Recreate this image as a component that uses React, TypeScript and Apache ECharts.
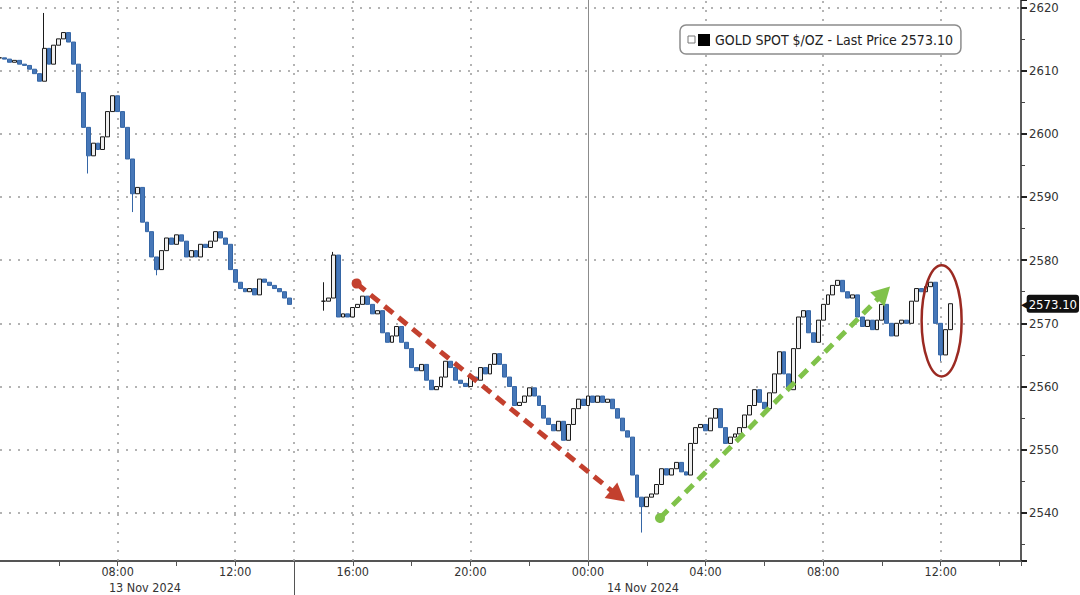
import React, { useEffect, useRef } from 'react';
import * as echarts from 'echarts';

// hours counted from 13 Nov 2024 00:00, one bar every 10 minutes
const barMinutes = 10;
const sessionAStart = 4;
const sessionAClose = [
  2612.0, 2611.8, 2611.3, 2611.6, 2611.0, 2610.8, 2610.2, 2609.5, 2608.3, 2613.5,
  2611.0, 2614.0, 2615.0, 2616.0, 2614.5, 2611.0, 2606.5, 2601.0, 2596.5, 2598.5,
  2597.5, 2599.5, 2603.5, 2606.0, 2603.5, 2601.0, 2596.0, 2590.5, 2591.5, 2586.0,
  2584.5, 2580.5, 2578.5, 2581.5, 2583.5, 2582.5, 2584.0, 2583.0, 2580.5, 2581.5,
  2580.5, 2582.5, 2582.0, 2583.0, 2584.5, 2583.5, 2582.5, 2578.5, 2576.5, 2575.5,
  2575.0, 2575.5, 2574.5, 2577.0, 2576.5, 2576.0, 2575.5, 2575.0, 2574.0, 2573.0,
];
const sessionBStart = 15;
const sessionBClose = [
  2573.5, 2574.0, 2580.8, 2571.0, 2571.5, 2571.0, 2572.5, 2573.0, 2574.3, 2573.0,
  2571.5, 2572.0, 2568.5, 2567.0, 2568.0, 2569.5, 2567.0, 2566.0, 2563.0, 2562.5,
  2563.5, 2561.0, 2559.5, 2560.0, 2561.5, 2564.0, 2563.0, 2561.0, 2560.5, 2560.0,
  2561.5, 2561.0, 2563.0, 2562.0, 2563.5, 2565.2, 2563.5, 2561.5, 2560.0, 2557.0,
  2557.5, 2558.5, 2559.8, 2558.5, 2557.0, 2555.0, 2554.0, 2553.0, 2554.5, 2551.5,
  2554.0, 2556.5, 2558.0, 2557.0, 2558.5, 2557.5, 2558.5, 2557.5, 2558.0, 2556.5,
  2555.0, 2553.0, 2552.0, 2546.0, 2542.5, 2541.0, 2542.5, 2543.0, 2544.5, 2547.0,
  2546.0, 2547.0, 2548.0, 2546.5, 2546.0, 2551.0, 2553.5, 2554.0, 2553.0, 2555.0,
  2556.5, 2553.5, 2551.0, 2552.0, 2552.5, 2553.5, 2555.5, 2557.0, 2559.5, 2557.5,
  2556.5, 2559.0, 2562.0, 2565.5, 2562.0, 2559.5, 2566.0, 2571.0, 2572.0, 2568.5,
  2567.0, 2570.5, 2573.0, 2574.5, 2576.0, 2576.8, 2575.0, 2574.0, 2574.5, 2571.0,
  2569.5, 2570.5, 2569.0, 2570.5, 2573.0, 2570.0, 2568.0, 2570.0, 2570.5, 2570.0,
  2573.5, 2575.5, 2575.0, 2575.8, 2576.5, 2570.0, 2565.0, 2569.0, 2573.1,
];
// [hour, price] of visible wick ends
const wickHighs = [[5.5, 2619.1], [15.0, 2576.5], [15.333, 2581.3]];
const wickLows = [[7.0, 2593.7], [8.5, 2587.6], [9.333, 2577.6], [15.0, 2572.0], [25.833, 2536.9], [36.0, 2564.0]];

const lastPrice = 2573.1;
const seriesName = 'GOLD SPOT $/OZ - Last Price 2573.10';

const gridHours = [8, 12, 14, 16, 20, 28, 32, 36];
const dayBreakHour = 24;
const sessionBreakHour = 14;
const dateLabels = [
  { hour: 8.93, text: '13 Nov 2024' },
  { hour: 25.87, text: '14 Nov 2024' },
];

// hand-drawn annotations, [hour, price]
const downArrow = [[16.13, 2576.3], [25.02, 2542.7]];
const upArrow = [[26.45, 2539.2], [34.06, 2574.8]];
const circleBox = [[35.35, 2579.2], [36.71, 2561.6]];

const FONT = "'DejaVu Sans Condensed', 'DejaVu Sans', sans-serif";

const buildCandles = (start: number, closes: number[]) =>
  closes.map((c, i) => {
    const t = start + (i * barMinutes) / 60;
    const o = i === 0 ? c : closes[i - 1];
    let lo = Math.min(o, c);
    let hi = Math.max(o, c);
    wickHighs.forEach(([h, p]) => {
      if (Math.abs(h - t) < 0.05) hi = Math.max(hi, p);
    });
    wickLows.forEach(([h, p]) => {
      if (Math.abs(h - t) < 0.05) lo = Math.min(lo, p);
    });
    return [t, o, c, lo, hi];
  });

const pad = (n: number) => (n < 10 ? '0' + n : '' + n);

const App: React.FC = () => {
  const chartRef = useRef<HTMLDivElement>(null);

  useEffect(() => {
    if (!chartRef.current) return;
    const chart = echarts.init(chartRef.current, undefined, { renderer: 'svg' });

    const candles = [
      ...buildCandles(sessionAStart, sessionAClose),
      ...buildCandles(sessionBStart, sessionBClose),
    ];

    const dotted = { color: '#9a9a9a', type: [2, 7], width: 1.5 };
    const xMin = 4;
    const xMax = 38.73;

    const arrow = (pts: number[][], color: string) => [
      { coord: pts[0], symbol: 'circle', symbolSize: 10, lineStyle: { color, width: 5, type: [11, 7] }, itemStyle: { color } },
      { coord: pts[1], symbol: 'triangle', symbolSize: [20, 18], itemStyle: { color } },
    ];

    chart.setOption({
      animation: false,
      backgroundColor: '#fff',
      textStyle: { fontFamily: FONT },
      grid: { left: 0, right: 59, top: 0, bottom: 34, containLabel: false, outerBoundsMode: 'none' },
      legend: {
        data: [seriesName],
        left: 680,
        top: 25,
        icon: 'rect',
        itemWidth: 12,
        itemHeight: 12,
        padding: [8, 8, 7, 18],
        backgroundColor: '#fff',
        borderColor: '#8c8c8c',
        borderWidth: 1.5,
        borderRadius: 6,
        itemStyle: { color: '#000', borderWidth: 0 },
        textStyle: { fontSize: 14, color: '#222', fontFamily: FONT },
      },
      xAxis: [
        {
          type: 'value',
          position: 'bottom',
          min: xMin,
          max: xMax,
          interval: 2,
          axisLine: { lineStyle: { color: '#555', width: 2 } },
          axisTick: { length: 5, lineStyle: { color: '#555' } },
          axisLabel: {
            showMinLabel: false,
            color: '#333',
            fontSize: 12.5,
            margin: 4,
            formatter: (v: number) => {
              if (Math.abs(v / 4 - Math.round(v / 4)) > 1e-6) return '';
              return pad(Math.round(v) % 24) + ':00';
            },
          },
          splitLine: { show: false },
        },
        {
          type: 'value',
          position: 'bottom',
          min: xMin,
          max: xMax,
          axisLine: { show: false },
          axisTick: { show: true, customValues: [sessionBreakHour], length: 34, lineStyle: { color: '#555' } },
          axisLabel: {
            customValues: dateLabels.map((d) => d.hour),
            color: '#333',
            fontSize: 12.5,
            margin: 20,
            formatter: (v: number) => dateLabels.find((d) => Math.abs(d.hour - v) < 0.01)?.text ?? '',
          },
          splitLine: { show: false },
        },
      ],
      yAxis: {
        type: 'value',
        position: 'right',
        min: 2532.4,
        max: 2621.15,
        splitNumber: 9,
        minInterval: 10,
        maxInterval: 10,
        axisLine: { show: true, lineStyle: { color: '#222', width: 1.5 } },
        axisTick: { show: true, length: 6, lineStyle: { color: '#222', width: 2 } },
        minorTick: { show: true, splitNumber: 2, length: 4, lineStyle: { color: '#444' } },
        axisLabel: {
          color: '#333',
          fontSize: 13,
          margin: 8,
          formatter: (v: number) => (Math.abs(v % 10) < 1e-6 ? String(v) : ''),
        },
        splitLine: { show: true, showMinLine: false, showMaxLine: false, lineStyle: dotted },
      },
      series: [
        {
          type: 'line',
          data: [],
          silent: true,
          markLine: {
            z: 1,
            silent: true,
            symbol: 'none',
            label: { show: false },
            lineStyle: dotted,
            data: [
              ...gridHours.map((h) => ({ xAxis: h })),
              { xAxis: dayBreakHour, lineStyle: { color: '#8c8c8c', type: 'solid', width: 1 } },
            ],
          },
        },
        {
          name: seriesName,
          type: 'candlestick',
          data: candles,
          encode: { x: 0, y: [1, 2, 3, 4] },
          barWidth: 4.4,
          z: 3,
          itemStyle: {
            color: '#eeeeee',
            color0: '#4677b8',
            borderColor: '#1b1b1b',
            borderColor0: '#3566a6',
            borderWidth: 1,
          },
          markLine: {
            silent: true,
            symbol: 'none',
            data: [arrow(downArrow, '#c3402e'), arrow(upArrow, '#80c24a')],
          },
        },
        {
          type: 'line',
          data: [],
          silent: true,
          clip: false,
          markLine: {
            silent: true,
            symbol: 'none',
            z: 10,
            lineStyle: { color: 'transparent', width: 1 },
            label: {
              show: true,
              position: 'end',
              distance: 0,
              formatter: '{a|◀}{b|' + lastPrice.toFixed(2) + '}',
              rich: {
                a: { color: '#111', fontSize: 14, padding: [0, -4, 0, 0] },
                b: {
                  color: '#fff',
                  backgroundColor: '#111',
                  fontSize: 13,
                  fontFamily: FONT,
                  padding: [3, 2, 2, 2],
                  borderRadius: 3,
                },
              },
            },
            data: [{ yAxis: lastPrice }],
          },
        },
      ],
    });

    const p0 = chart.convertToPixel({ xAxisIndex: 0, yAxisIndex: 0 }, circleBox[0]) as number[];
    const p1 = chart.convertToPixel({ xAxisIndex: 0, yAxisIndex: 0 }, circleBox[1]) as number[];
    chart.setOption({
      graphic: [
        {
          id: 'legendBox',
          type: 'rect',
          shape: { x: 688, y: 36, width: 7, height: 7 },
          style: { fill: '#fff', stroke: '#777', lineWidth: 1 },
          z: 20,
        },
        {
          id: 'circle',
          type: 'ellipse',
          shape: {
            cx: (p0[0] + p1[0]) / 2,
            cy: (p0[1] + p1[1]) / 2,
            rx: Math.abs(p1[0] - p0[0]) / 2,
            ry: Math.abs(p1[1] - p0[1]) / 2,
          },
          style: { fill: 'none', stroke: '#9b2a22', lineWidth: 2.5 },
          z: 20,
        },
      ],
    });

    return () => {
      chart.dispose();
    };
  }, []);

  return (
    <div
      ref={chartRef}
      style={{ position: 'fixed', left: 0, top: 0, width: 1080, height: 595, background: '#fff' }}
    />
  );
};

export default App;
